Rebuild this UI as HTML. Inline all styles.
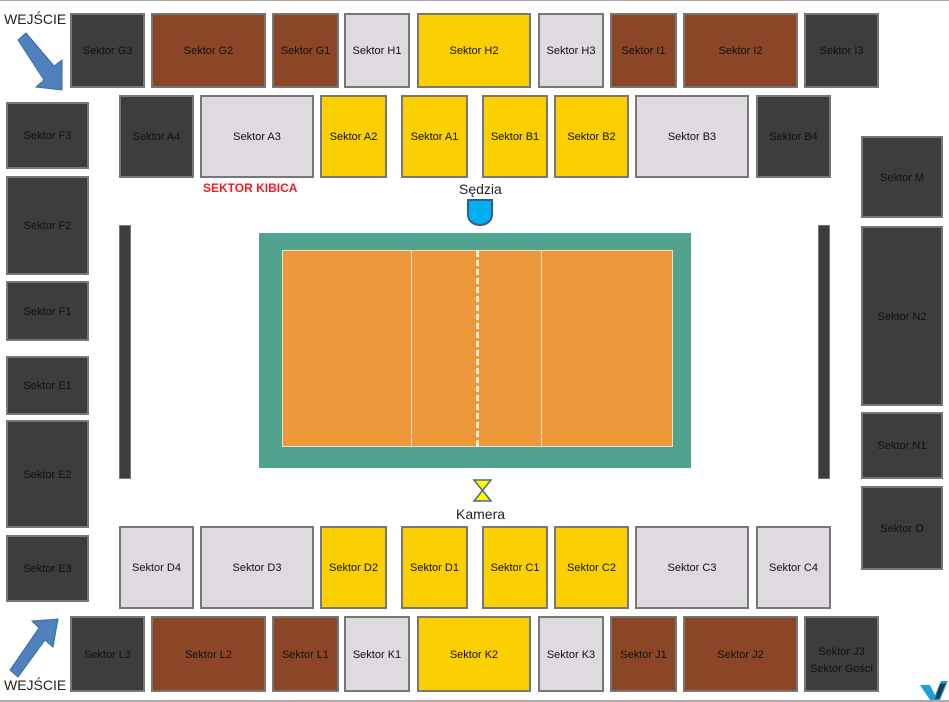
<!DOCTYPE html>
<html><head><meta charset="utf-8"><style>
body{margin:0;width:949px;height:702px;position:relative;background:#fff;font-family:"Liberation Sans",sans-serif;overflow:hidden}
.b{position:absolute;box-sizing:border-box;border:2px solid #777;display:flex;align-items:center;justify-content:center;font-size:11px;color:#111;text-align:center;line-height:17px;padding-top:2px}
.d{background:#3d3d3b}.r{background:#8b4626}.l{background:#dedae0}.y{background:#fccf00}
.t{position:absolute;font-size:14px;color:#222}
</style></head><body>
<div style="position:absolute;left:0;top:0;width:949px;height:1px;background:#aaa"></div>
<div style="position:absolute;left:0;top:700px;width:949px;height:2px;background:#aaa"></div>

<div class="b d" style="left:70px;top:13px;width:75px;height:75px">Sektor G3</div>
<div class="b r" style="left:151px;top:13px;width:115px;height:75px">Sektor G2</div>
<div class="b r" style="left:272px;top:13px;width:67px;height:75px">Sektor G1</div>
<div class="b l" style="left:344px;top:13px;width:66px;height:75px">Sektor H1</div>
<div class="b y" style="left:417px;top:13px;width:114px;height:75px">Sektor H2</div>
<div class="b l" style="left:538px;top:13px;width:66px;height:75px">Sektor H3</div>
<div class="b r" style="left:610px;top:13px;width:67px;height:75px">Sektor I1</div>
<div class="b r" style="left:683px;top:13px;width:115px;height:75px">Sektor I2</div>
<div class="b d" style="left:804px;top:13px;width:75px;height:75px">Sektor I3</div>

<div class="b d" style="left:119px;top:95px;width:75px;height:83px">Sektor A4</div>
<div class="b l" style="left:200px;top:95px;width:114px;height:83px">Sektor A3</div>
<div class="b y" style="left:320px;top:95px;width:67px;height:83px">Sektor A2</div>
<div class="b y" style="left:401px;top:95px;width:67px;height:83px">Sektor A1</div>
<div class="b y" style="left:482px;top:95px;width:66px;height:83px">Sektor B1</div>
<div class="b y" style="left:554px;top:95px;width:75px;height:83px">Sektor B2</div>
<div class="b l" style="left:635px;top:95px;width:114px;height:83px">Sektor B3</div>
<div class="b d" style="left:756px;top:95px;width:75px;height:83px">Sektor B4</div>

<div class="b d" style="left:6px;top:102px;width:83px;height:67px">Sektor F3</div>
<div class="b d" style="left:6px;top:176px;width:83px;height:99px">Sektor F2</div>
<div class="b d" style="left:6px;top:281px;width:83px;height:60px">Sektor F1</div>
<div class="b d" style="left:6px;top:356px;width:83px;height:59px">Sektor E1</div>
<div class="b d" style="left:6px;top:420px;width:83px;height:108px">Sektor E2</div>
<div class="b d" style="left:6px;top:535px;width:83px;height:67px">Sektor E3</div>

<div class="b d" style="left:861px;top:136px;width:82px;height:82px">Sektor M</div>
<div class="b d" style="left:861px;top:226px;width:82px;height:180px">Sektor N2</div>
<div class="b d" style="left:861px;top:412px;width:82px;height:67px">Sektor N1</div>
<div class="b d" style="left:861px;top:486px;width:82px;height:84px">Sektor O</div>

<div class="b l" style="left:119px;top:526px;width:75px;height:83px">Sektor D4</div>
<div class="b l" style="left:200px;top:526px;width:114px;height:83px">Sektor D3</div>
<div class="b y" style="left:320px;top:526px;width:67px;height:83px">Sektor D2</div>
<div class="b y" style="left:401px;top:526px;width:67px;height:83px">Sektor D1</div>
<div class="b y" style="left:482px;top:526px;width:66px;height:83px">Sektor C1</div>
<div class="b y" style="left:554px;top:526px;width:75px;height:83px">Sektor C2</div>
<div class="b l" style="left:635px;top:526px;width:114px;height:83px">Sektor C3</div>
<div class="b l" style="left:756px;top:526px;width:75px;height:83px">Sektor C4</div>

<div class="b d" style="left:70px;top:616px;width:75px;height:76px">Sektor L3</div>
<div class="b r" style="left:151px;top:616px;width:115px;height:76px">Sektor L2</div>
<div class="b r" style="left:272px;top:616px;width:67px;height:76px">Sektor L1</div>
<div class="b l" style="left:344px;top:616px;width:66px;height:76px">Sektor K1</div>
<div class="b y" style="left:417px;top:616px;width:114px;height:76px">Sektor K2</div>
<div class="b l" style="left:538px;top:616px;width:66px;height:76px">Sektor K3</div>
<div class="b r" style="left:610px;top:616px;width:67px;height:76px">Sektor J1</div>
<div class="b r" style="left:683px;top:616px;width:115px;height:76px">Sektor J2</div>
<div class="b d" style="left:804px;top:616px;width:75px;height:76px;padding-top:14px">Sektor J3<br>Sektor Gości</div>

<div class="b d" style="left:119px;top:225px;width:12px;height:254px;border-width:1px"></div>
<div class="b d" style="left:818px;top:225px;width:12px;height:254px;border-width:1px"></div>

<div style="position:absolute;left:259px;top:233px;width:432px;height:235px;background:#51a38f"></div>
<div style="position:absolute;left:282px;top:250px;width:389px;height:195px;background:#ed983b;border:1px solid #e8e0c8"></div>
<div style="position:absolute;left:411px;top:251px;width:1px;height:195px;background:#f0e6d0"></div>
<div style="position:absolute;left:541px;top:251px;width:1px;height:195px;background:#f0e6d0"></div>
<div style="position:absolute;left:476px;top:251px;width:0;height:195px;border-left:3px dashed #f4ece0"></div>

<div class="t" style="left:459px;top:181px">Sędzia</div>
<svg style="position:absolute;left:466px;top:198px" width="30" height="30"><path d="M2 2H26V17A12 10 0 0 1 2 17Z" fill="#00b0f0" stroke="#3a5a8a" stroke-width="2"/></svg>
<svg style="position:absolute;left:472px;top:478px" width="22" height="26"><path d="M2 2H19L10.5 12.5L19 23H2L10.5 12.5Z" fill="#ffff00" stroke="#4a6a8a" stroke-width="1.5"/></svg>
<div class="t" style="left:456px;top:506px">Kamera</div>

<div style="position:absolute;left:203px;top:181px;color:#ee1c24;font-weight:bold;font-size:12px">SEKTOR KIBICA</div>

<div class="t" style="left:4px;top:11px">WEJŚCIE</div>
<div class="t" style="left:4px;top:677px">WEJŚCIE</div>
<svg style="position:absolute;left:0;top:0" width="80" height="702">
<path d="M18 40L26 33L54 66L62 60L62 90L36 87L44 80Z" fill="#4f81bd" stroke="#3a6aa0"/>
<path d="M10 670L18 677L45 640L53 647L58 619L32 621L39 628Z" fill="#4f81bd" stroke="#3a6aa0"/>
</svg>
<svg style="position:absolute;left:918px;top:678px" width="32" height="24"><path d="M2 7L12 7L17 17L23 3L30 3L22 22L12 22Z" fill="#1f9fd8"/><path d="M22 6L28 5L21 21L17 21Z" fill="#1a3a5a"/></svg>
</body></html>
